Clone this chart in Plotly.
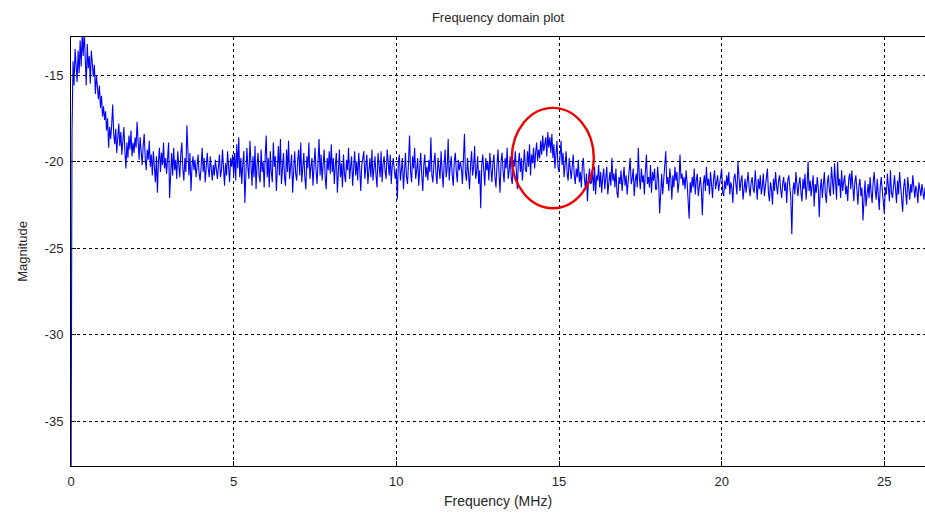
import numpy as np
import plotly.graph_objects as go

# ---- data ----
freq_step_mhz = 0.03125  # sample spacing of the spectrum

magnitude = [
    # 0 - 1 MHz
    -40.0, -18.3, -14.2, -15.6, -13.5, -14.8, -15.4, -13.6, -14.9, -13.0, -14.5, -12.6, -13.9, -12.4, -14.8, -15.6,
    -13.2, -14.6, -13.9, -15.5, -13.6, -14.2, -15.1, -14.4, -16.1, -15.0, -15.7, -16.4, -15.6, -16.9, -16.2, -17.4,
    # 1 - 2
    -16.8, -17.6, -17.1, -18.2, -17.5, -19.2, -18.0, -18.7, -17.9, -16.7, -18.4, -19.0, -18.1, -19.5, -18.6, -17.8,
    -19.1, -18.3, -19.6, -18.8, -18.0, -19.4, -20.4, -18.9, -19.8, -18.5, -19.3, -18.2, -19.7, -18.9, -19.5, -18.6,
    # 2 - 3
    -19.2, -17.7, -19.0, -19.9, -18.6, -19.5, -20.2, -19.1, -18.4, -19.8, -20.5, -19.3, -19.9, -18.8, -20.3, -19.6,
    -20.8, -19.4, -20.1, -21.2, -19.7, -21.8, -20.0, -19.2, -20.6, -19.5, -20.2, -18.9, -20.4, -19.8, -20.7, -19.4,
    # 3 - 4
    -18.9, -22.1, -20.3, -19.5, -20.8, -19.2, -20.5, -19.9, -21.0, -19.4, -20.2, -20.9, -19.6, -18.9, -20.4, -21.1,
    -19.8, -20.6, -17.9, -20.1, -20.8, -19.5, -21.7, -20.3, -19.7, -20.5, -19.9, -20.9, -20.2, -19.6, -20.7, -21.1,
    # 4 - 5
    -20.3, -19.2, -20.6, -19.8, -21.2, -20.0, -19.5, -20.4, -20.9, -19.7, -20.5, -21.1, -20.2, -20.8, -19.9, -20.4,
    -21.0, -20.3, -19.6, -20.9, -20.5, -19.3, -20.7, -21.4, -20.1, -20.8, -19.4, -20.5, -21.2, -19.8, -20.3, -19.6,
    # 5 - 6
    -20.8, -19.5, -21.1, -19.0, -20.4, -18.6, -20.9, -19.8, -21.3, -20.1, -19.4, -22.4, -20.6, -19.2, -20.3, -21.0,
    -18.8, -20.5, -21.4, -19.7, -20.9, -19.1, -21.6, -20.2, -19.5, -20.8, -21.2, -19.3, -20.6, -20.0, -21.5, -19.7,
    # 6 - 7
    -18.5, -20.9, -19.8, -21.5, -19.4, -20.6, -21.2, -18.9, -20.3, -19.7, -21.7, -20.4, -19.1, -20.8, -18.7, -21.3,
    -20.0, -19.5, -20.9, -21.4, -19.3, -20.6, -18.8, -21.0, -20.3, -19.6, -21.8, -20.2, -19.4, -20.7, -21.1, -19.9,
    # 7 - 8
    -19.3, -20.8, -18.9, -21.2, -20.1, -19.5, -20.9, -21.6, -19.7, -20.4, -18.9, -21.0, -20.3, -19.8, -21.4, -20.6,
    -19.2, -20.5, -21.3, -20.0, -18.7, -20.8, -19.6, -21.1, -20.4, -19.3, -20.9, -21.6, -19.8, -20.5, -19.4, -20.7,
    # 8 - 9
    -19.0, -20.6, -19.8, -21.3, -20.2, -19.5, -21.8, -20.4, -19.3, -20.9, -20.1, -21.5, -19.6, -20.7, -21.2, -19.9,
    -20.5, -19.2, -21.0, -20.3, -19.7, -21.4, -20.6, -19.4, -20.8, -20.0, -21.1, -19.5, -20.4, -21.7, -20.2, -19.8,
    # 9 - 10
    -19.4, -21.0, -20.2, -19.6, -21.3, -20.5, -19.8, -20.9, -19.3, -21.1, -20.4, -19.7, -20.8, -21.5, -19.5, -20.3,
    -20.9, -19.4, -21.2, -20.1, -19.7, -20.6, -21.0, -19.3, -20.4, -20.8, -19.6, -21.3, -20.2, -19.8, -20.5, -21.0,
    # 10 - 11
    -20.4, -22.2, -20.0, -19.6, -21.1, -20.4, -19.8, -21.6, -20.3, -19.5, -20.9, -21.3, -20.0, -18.5, -20.6, -21.2,
    -19.7, -20.4, -19.2, -21.0, -20.5, -19.8, -21.4, -20.1, -19.5, -20.8, -21.7, -20.2, -19.6, -20.9, -20.3, -21.1,
    # 11 - 12
    -19.9, -20.6, -18.6, -20.8, -21.2, -20.1, -19.5, -20.7, -21.3, -19.8, -20.4, -21.0, -19.4, -20.6, -21.5, -20.2,
    -19.3, -20.9, -20.4, -18.7, -21.1, -20.3, -19.7, -20.8, -21.4, -20.0, -19.5, -20.6, -21.2, -19.9, -20.5, -20.0,
    # 12 - 13
    -20.4, -21.3, -19.6, -18.4, -20.7, -21.1, -19.8, -20.5, -21.6, -20.2, -19.4, -20.8, -20.3, -19.1, -21.0, -20.6,
    -19.7, -21.3, -20.5, -22.7, -20.2, -19.6, -20.9, -21.4, -19.8, -20.5, -20.0, -21.1, -19.5, -20.7, -21.2, -20.1,
    # 13 - 14
    -19.6, -20.9, -21.5, -20.2, -19.3, -20.7, -21.8, -20.0, -19.5, -20.6, -21.2, -19.8, -20.4, -19.2, -21.0, -20.5,
    -19.7, -20.9, -21.3, -19.9, -20.3, -19.4, -20.8, -21.6, -20.1, -19.5, -20.6, -19.8, -21.1, -20.2, -19.3, -20.5,
    # 14 - 15
    -20.6, -19.4, -20.3, -19.0, -20.8, -19.6, -20.1, -19.2, -20.4, -19.5, -18.9, -20.0, -19.3, -19.8, -18.8, -19.6,
    -18.5, -19.4, -19.1, -18.6, -19.7, -18.3, -19.2, -18.6, -19.5, -18.4, -19.8, -19.0, -20.4, -19.2, -18.8, -20.3,
    # 15 - 16
    -20.6, -19.7, -18.8, -20.2, -19.5, -20.9, -20.1, -19.4, -20.7, -21.1, -19.8, -20.5, -21.0, -20.3, -19.6, -20.8,
    -21.3, -20.4, -20.9, -19.9, -21.2, -20.6, -21.5, -20.2, -19.8, -21.0, -21.6, -20.7, -22.3, -21.0, -20.4, -21.3,
    # 16 - 17
    -21.2, -20.5, -21.7, -20.3, -21.9, -20.8, -21.1, -20.2, -21.5, -20.6, -21.8, -20.9, -20.4, -21.6, -21.0, -20.3,
    -21.9, -21.2, -20.6, -21.4, -19.8, -21.1, -20.7, -21.5, -20.4, -21.8, -22.1, -20.9, -21.3, -20.5, -21.7, -21.0,
    # 17 - 18
    -20.3, -21.4, -20.8, -21.9, -21.2, -20.6, -19.8, -21.3, -21.0, -20.4, -22.0, -21.1, -20.7, -21.5, -19.2, -20.9,
    -21.6, -20.4, -21.2, -20.8, -21.9, -20.5, -19.6, -21.3, -20.9, -21.5, -20.2, -21.8, -20.6, -21.1, -20.4, -21.6,
    # 18 - 19
    -21.6, -20.3, -21.1, -23.0, -21.4, -20.7, -21.9, -21.2, -20.5, -19.4, -21.3, -20.9, -21.7, -20.4, -21.0, -22.2,
    -20.8, -21.5, -20.3, -21.1, -20.6, -21.8, -21.2, -19.6, -21.0, -20.7, -21.4, -20.9, -21.6, -20.5, -21.2, -22.0,
    # 19 - 20
    -23.3, -21.2, -21.8, -20.9, -21.5, -20.4, -21.9, -21.1, -20.7, -22.0, -21.4, -20.9, -21.6, -23.1, -21.3, -20.8,
    -21.7, -20.3, -21.4, -21.0, -21.9, -20.6, -21.3, -22.1, -21.0, -20.5, -21.6, -21.2, -20.8, -21.7, -21.3, -20.9,
    # 20 - 21
    -20.4, -21.8, -22.0, -21.1, -21.6, -20.8, -21.4, -20.6, -21.9, -21.2, -21.5, -22.4, -21.0, -20.7, -21.5, -21.9,
    -20.0, -21.3, -21.7, -21.1, -20.8, -22.2, -21.4, -21.0, -21.8, -21.3, -20.6, -21.5, -22.0, -21.2, -20.9, -21.6,
    # 21 - 22
    -21.8, -20.5, -21.3, -22.2, -21.0, -21.6, -20.8, -21.9, -21.4, -20.7, -22.0, -21.5, -21.1, -20.4, -21.8, -22.3,
    -21.2, -21.6, -22.5, -21.0, -21.7, -20.6, -21.4, -21.9, -21.1, -20.8, -21.6, -22.1, -21.3, -20.9, -21.7, -21.2,
    # 22 - 23
    -22.4, -21.1, -20.8, -21.6, -22.1, -24.2, -21.7, -21.2, -21.9, -20.6, -21.5, -22.0, -21.3, -20.9, -21.8, -22.3,
    -21.0, -21.6, -20.7, -22.2, -21.4, -20.0, -21.7, -21.1, -22.0, -21.5, -20.8, -22.6, -21.3, -21.8, -20.9, -21.5,
    # 23 - 24
    -23.2, -21.6, -21.0, -22.1, -21.4, -20.6, -21.9, -22.4, -21.2, -20.8, -21.7, -22.0, -20.3, -21.5, -21.9, -20.1,
    -21.3, -22.2, -20.0, -21.4, -21.0, -22.1, -20.5, -21.7, -21.2, -20.8, -21.9, -21.4, -22.3, -21.0, -20.7, -21.6,
    # 24 - 25
    -20.5, -21.9, -22.3, -21.2, -20.8, -21.6, -22.5, -21.4, -21.0, -22.0, -21.5, -23.4, -21.9, -21.1, -22.6, -21.7,
    -21.3, -22.1, -20.9, -21.8, -22.4, -21.2, -20.6, -21.6, -22.2, -21.0, -21.8, -22.8, -21.4, -20.9, -21.7, -22.3,
    # 25 - 26
    -23.0, -21.5, -21.9, -20.7, -21.4, -22.3, -20.5, -21.8, -22.1, -21.2, -20.8, -21.6, -22.4, -21.1, -21.9, -20.6,
    -21.3, -22.0, -22.9, -21.5, -21.0, -21.8, -22.5, -20.9, -21.6, -22.2, -21.3, -21.8, -20.8, -21.5, -22.1, -21.4,
    # 26 -
    -21.7, -22.4, -21.2, -21.6, -22.0, -21.3, -21.9, -22.2, -21.5,
]
frequency = np.arange(len(magnitude)) * freq_step_mhz

x_ticks = [0, 5, 10, 15, 20, 25]
x_tick_labels = ["0", "5", "10", "15", "20", "25"]
y_ticks = [-35, -30, -25, -20, -15]
y_tick_labels = ["-35", "-30", "-25", "-20", "-15"]
x_range = [0, 26.25]
y_range = [-37.6, -12.8]

# highlighted region (ellipse in data units)
highlight_x = [13.55, 16.07]
highlight_y = [-22.7, -16.9]

font_family = "Liberation Sans, Arial, sans-serif"
text_color = "#262626"

fig = go.Figure()
fig.add_trace(go.Scatter(
    x=frequency, y=magnitude, mode="lines",
    line=dict(color="#0000FF", width=1.1),
    hoverinfo="skip", showlegend=False,
))

fig.add_shape(
    type="circle", xref="x", yref="y",
    x0=highlight_x[0], x1=highlight_x[1],
    y0=highlight_y[0], y1=highlight_y[1],
    line=dict(color="#EE0000", width=2.4),
)

axis_common = dict(
    showgrid=True, gridcolor="black", gridwidth=1, griddash="3px,3px",
    zeroline=False, showline=True, linecolor="black", linewidth=1,
    ticks="inside", ticklen=5, tickcolor="black",
    tickfont=dict(family=font_family, size=13, color=text_color),
)

fig.update_layout(
    width=925, height=521,
    margin=dict(l=71, r=0, t=37, b=55),
    paper_bgcolor="white", plot_bgcolor="white",
    title=dict(text="Frequency domain plot", x=(71 + 925) / 2 / 925, xanchor="center",
               y=1 - 17 / 521, yanchor="middle",
               font=dict(family=font_family, size=13, color=text_color)),
    xaxis=dict(range=x_range, tickvals=x_ticks, ticktext=x_tick_labels, mirror=True,
               ticklabelstandoff=3,
               title=dict(text="Frequency (MHz)", standoff=8,
                          font=dict(family=font_family, size=14, color=text_color)),
               **axis_common),
    yaxis=dict(range=y_range, tickvals=y_ticks, ticktext=y_tick_labels, mirror=False,
               ticklabelstandoff=4,
               title=dict(text="Magnitude", standoff=14,
                          font=dict(family=font_family, size=13, color=text_color)),
               **axis_common),
)

fig.write_html("out.html")
